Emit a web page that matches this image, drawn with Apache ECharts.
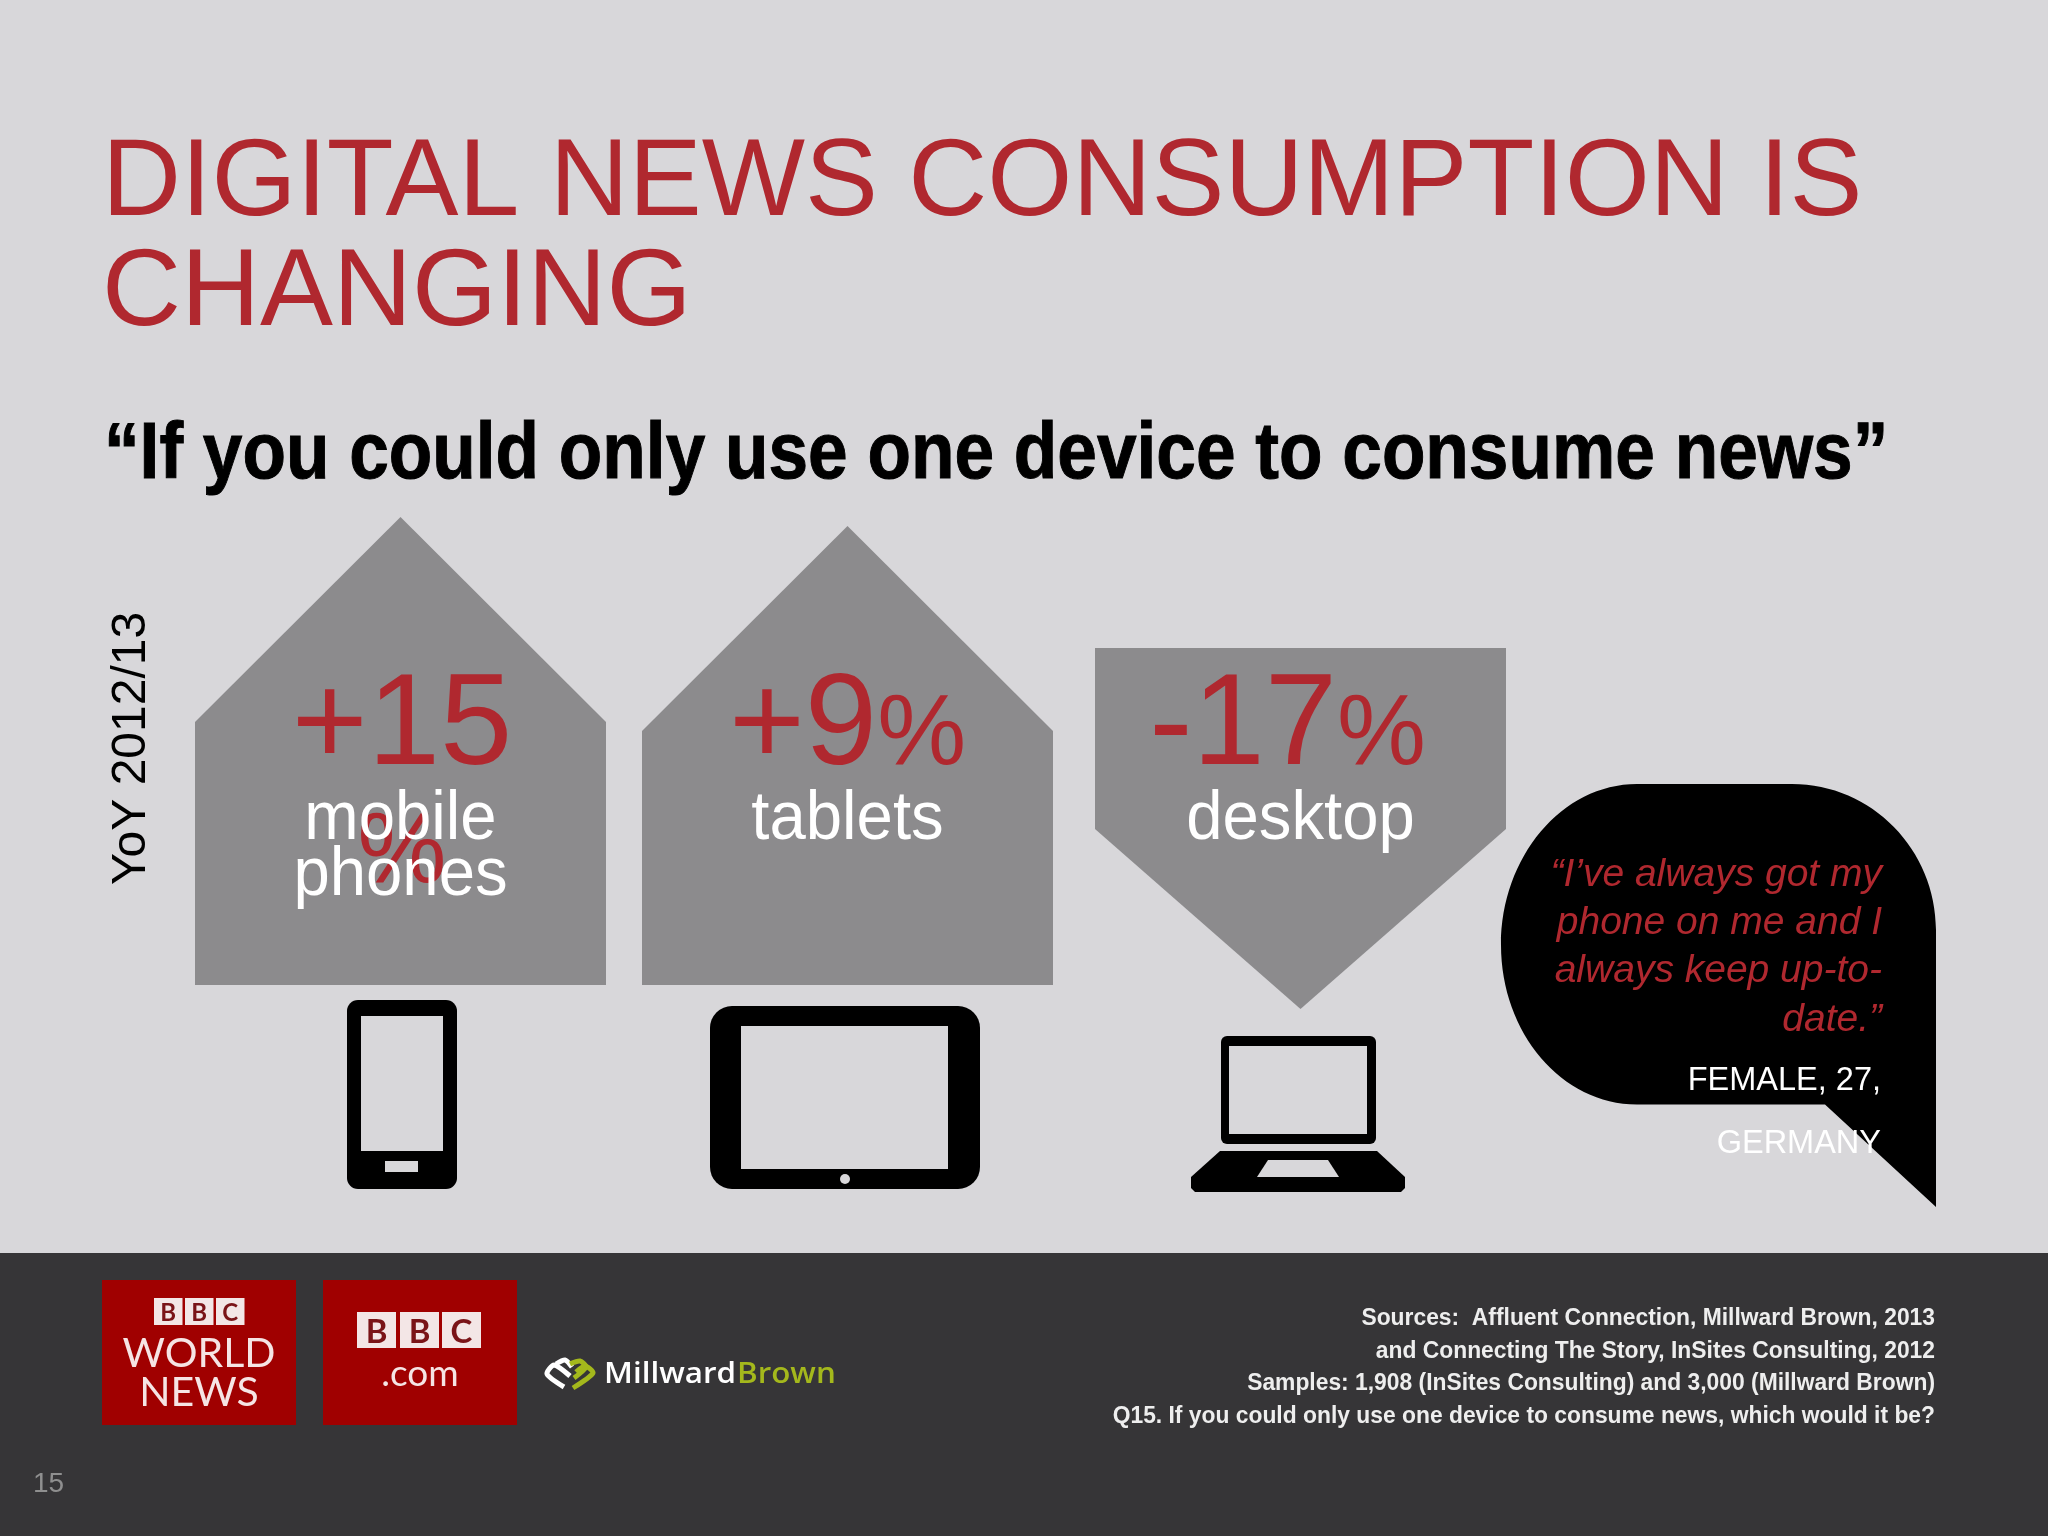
<!DOCTYPE html>
<html>
<head>
    <meta charset="utf-8">
    <title>Digital news consumption</title>
    <script src="https://cdn.jsdelivr.net/npm/echarts@6/dist/echarts.min.js"></script>
    <style>
        html, body { margin: 0; padding: 0; background: #d8d7da; }
        #main { width: 2048px; height: 1536px; }
    </style>
</head>
<body>
<div id="main"></div>
<script>
    // chart data
    var categories = ['mobile\nphones', 'tablets', 'desktop'];
    var yoyChange = [15, 9, -17];
    var percentOnOwnLine = [true, false, false];

    // slide texts
    var titleLines = ['DIGITAL NEWS CONSUMPTION IS', 'CHANGING'];
    var subtitleText = '“If you could only use one device to consume news”';
    var yoyLabel = 'YoY 2012/13';
    var quoteLines = ['“I’ve always got my', 'phone on me and I', 'always keep up-to-', 'date.”'];
    var quoteAuthor = ['FEMALE, 27,', 'GERMANY'];
    var sourceLines = [
        'Sources:  Affluent Connection, Millward Brown, 2013',
        'and Connecting The Story, InSites Consulting, 2012',
        'Samples: 1,908 (InSites Consulting) and 3,000 (Millward Brown)',
        'Q15. If you could only use one device to consume news, which would it be?'
    ];
    var pageNumber = '15';

    var RED = '#b0282f';
    var GREY = '#8c8b8d';
    var BG = '#d8d7da';
    var DARK = '#363537';
    var LOGO_RED = '#a00000';
    var GREEN = '#a4b81c';
    var ARIAL = '"Liberation Sans", Arial, sans-serif';

    // speech bubble outline, the graphic component has no plain path type
    echarts.graphic.registerShape('speechBubble', echarts.graphic.extendShape({
        buildPath: function (ctx) {
            ctx.moveTo(1637, 784);
            ctx.lineTo(1792, 784);
            ctx.bezierCurveTo(1872, 784, 1936, 850, 1936, 930);
            ctx.lineTo(1936, 1207);
            ctx.lineTo(1825, 1104.5);
            ctx.lineTo(1637, 1104.5);
            ctx.bezierCurveTo(1562, 1104.5, 1501, 1033, 1501, 945);
            ctx.bezierCurveTo(1501, 857, 1562, 784, 1637, 784);
            ctx.closePath();
        }
    }));

    // text placed by its baseline, 0.283em is where the middle of the line sits above it
    function txt(x, baseline, text, size, fill, o) {
        o = o || {};
        var font = (o.style ? o.style + ' ' : '') + (o.weight ? o.weight + ' ' : '') + size + 'px ' + (o.family || ARIAL);
        var style = {
            text: text,
            fill: fill,
            font: font,
            align: o.align || 'left',
            verticalAlign: 'middle'
        };
        if (o.thicken) {
            style.stroke = fill;
            style.lineWidth = o.thicken;
        }
        return {
            type: 'text',
            x: x,
            y: baseline - 0.283 * size,
            scaleX: o.sx || 1,
            silent: true,
            style: style
        };
    }

    function rect(x0, y0, x1, y1, fill, r) {
        return {
            type: 'rect',
            silent: true,
            shape: {x: x0, y: y0, width: x1 - x0, height: y1 - y0, r: r || 0},
            style: {fill: fill}
        };
    }

    function poly(points, fill) {
        return {type: 'polygon', silent: true, shape: {points: points}, style: {fill: fill}};
    }

    function line(points, stroke, width) {
        return {
            type: 'polyline',
            silent: true,
            shape: {points: points, smooth: 0.25},
            style: {stroke: stroke, lineWidth: width, fill: null, lineJoin: 'round', lineCap: 'butt'}
        };
    }

    // device icons under the arrows
    function phoneIcon() {
        return [
            rect(347, 1000, 457, 1189, '#000', 11),
            rect(361, 1016, 443, 1151, BG),
            rect(385, 1161, 418, 1172, BG)
        ];
    }

    function tabletIcon() {
        return [
            rect(710, 1006, 980, 1189, '#000', 22),
            rect(741, 1026, 948, 1169, BG),
            {type: 'circle', silent: true, shape: {cx: 845, cy: 1179, r: 5}, style: {fill: BG}}
        ];
    }

    function laptopIcon() {
        return [
            rect(1221, 1036, 1376, 1144, '#000', 6),
            rect(1229, 1046, 1367, 1134, BG),
            poly([[1220, 1151], [1377, 1151], [1405, 1177], [1405, 1188], [1401, 1192], [1195, 1192], [1191, 1188], [1191, 1177]], '#000'),
            poly([[1268, 1160], [1328, 1160], [1339, 1177], [1257, 1177]], BG)
        ];
    }

    var icons = [phoneIcon, tabletIcon, laptopIcon];

    // arrow per category, pointing the way of the change
    function renderArrow(params, api) {
        var i = params.dataIndex;
        var v = api.value(1);
        var colShift = [0, -3, 0][i];
        var cx = api.coord([i, 0])[0] + colShift;
        var halfW = 205.5;
        var points;
        if (v >= 0) {
            var apex = api.coord([i, v])[1];
            points = [[cx, apex], [cx + halfW, apex + 205], [cx + halfW, 985], [cx - halfW, 985], [cx - halfW, apex + 205]];
        } else {
            points = [[cx - halfW, 648], [cx + halfW, 648], [cx + halfW, 829], [cx, 1009], [cx - halfW, 829]];
        }

        var children = [poly(points, GREY)];
        var num = (v >= 0 ? '+' : '-') + Math.abs(v);
        var numX = cx + [1.5, 0, -13][i];
        var bigSize = 130;
        var pctSize = 100;
        if (percentOnOwnLine[i]) {
            children.push(txt(numX, 765, num, bigSize, RED, {align: 'center'}));
            children.push(txt(numX, 883, '%', pctSize, RED, {align: 'center'}));
        } else {
            // number and % run on in one line, centred together
            var numW = (num.length - 1) * bigSize * 0.556 + (v >= 0 ? 0.584 : 0.333) * bigSize;
            var pctW = pctSize * 0.889;
            var left = numX - (numW + pctW) / 2;
            children.push(txt(left, 765, num, bigSize, RED));
            children.push(txt(left + numW, 765, '%', pctSize, RED));
        }

        categories[i].split('\n').forEach(function (s, k) {
            children.push(txt(cx, 839 + k * 56, s, 68, '#fff', {align: 'center', sx: 0.96}));
        });

        return {type: 'group', children: children.concat(icons[i]())};
    }

    function bbcSquares(x0s, w, y0, y1, size) {
        var out = [];
        'BBC'.split('').forEach(function (c, k) {
            out.push(rect(x0s[k], y0, x0s[k] + w, y1, '#f3e6e6'));
            out.push(txt(x0s[k] + w / 2, y1 - (y1 - y0 - size * 0.72) / 2, c, size, '#7a1418', {
                align: 'center', family: 'Lato, sans-serif', weight: 'bold'
            }));
        });
        return out;
    }

    var elements = [];

    elements.push(rect(0, 1253, 2048, 1536, DARK));

    titleLines.forEach(function (s, k) {
        elements.push(txt(102, 215.5 + k * 110, s, 109.4, RED));
    });
    elements.push(txt(104, 479, subtitleText, 80, '#000', {weight: 'bold', sx: 0.89, thicken: 1}));

    var yoy = txt(0, 0, yoyLabel, 48, '#000');
    yoy.x = 145 - 0.283 * 48;
    yoy.y = 885;
    yoy.rotation = Math.PI / 2;
    elements.push(yoy);

    elements.push({type: 'speechBubble', silent: true, style: {fill: '#000'}});
    quoteLines.forEach(function (s, k) {
        elements.push(txt(1882, 886 + k * 48.3, s, 39, RED, {style: 'italic', align: 'right'}));
    });
    elements.push(txt(1881, 1090, quoteAuthor[0], 32.5, '#fff', {align: 'right'}));
    elements.push(txt(1881, 1153, quoteAuthor[1], 32.5, '#fff', {align: 'right'}));

    // logos
    elements.push(rect(102, 1280, 296, 1425, LOGO_RED));
    elements = elements.concat(bbcSquares([154, 185, 216], 28.5, 1298, 1325, 24));
    elements.push(txt(199, 1365, 'WORLD', 41, '#f6e4e4', {align: 'center', family: 'Lato, sans-serif'}));
    elements.push(txt(199, 1404, 'NEWS', 41, '#f6e4e4', {align: 'center', family: 'Lato, sans-serif'}));
    elements.push(rect(323, 1280, 517, 1425, LOGO_RED));
    elements = elements.concat(bbcSquares([357, 400, 442], 39, 1312, 1348, 33));
    elements.push(txt(420, 1385, '.com', 37, '#f6e4e4', {align: 'center', family: 'Lato, sans-serif'}));

    elements.push(line([[564, 1387], [547, 1374], [554, 1365], [570, 1376]], '#fff', 5));
    elements.push(line([[556, 1364], [565, 1360], [572, 1367]], '#fff', 5));
    elements.push(line([[573, 1388], [593, 1373], [585, 1366], [576, 1372]], GREEN, 5));
    elements.push(line([[570, 1364], [580, 1361], [586, 1367], [574, 1378]], GREEN, 5));
    elements.push(txt(604, 1383, 'Millward', 28, '#fff', {family: '"Open Sans", sans-serif', weight: 600, sx: 1.12}));
    elements.push(txt(737, 1383, 'Brown', 28, GREEN, {family: '"Open Sans", sans-serif', weight: 600, sx: 1.12}));

    sourceLines.forEach(function (s, k) {
        elements.push(txt(1935, 1325 + k * 32.7, s, 23, '#eeeeee', {weight: 'bold', align: 'right', sx: 0.993}));
    });
    elements.push(txt(33, 1492, pageNumber, 28, '#8f8f8f'));

    var chart = echarts.init(document.getElementById('main'));
    chart.setOption({
        animation: false,
        backgroundColor: BG,
        // category centres fall at 400.5, 850.5, 1300.5; 1.5px per point on the value axis
        grid: {left: 175.5, width: 1350, top: 509.5, height: 60},
        xAxis: {type: 'category', data: categories, show: false},
        yAxis: {type: 'value', min: -20, max: 20, show: false},
        tooltip: {show: false},
        graphic: {elements: elements},
        series: [{
            type: 'custom',
            coordinateSystem: 'cartesian2d',
            renderItem: renderArrow,
            clip: false,
            data: yoyChange.map(function (v, i) { return [i, v]; })
        }]
    });
</script>
</body>
</html>
